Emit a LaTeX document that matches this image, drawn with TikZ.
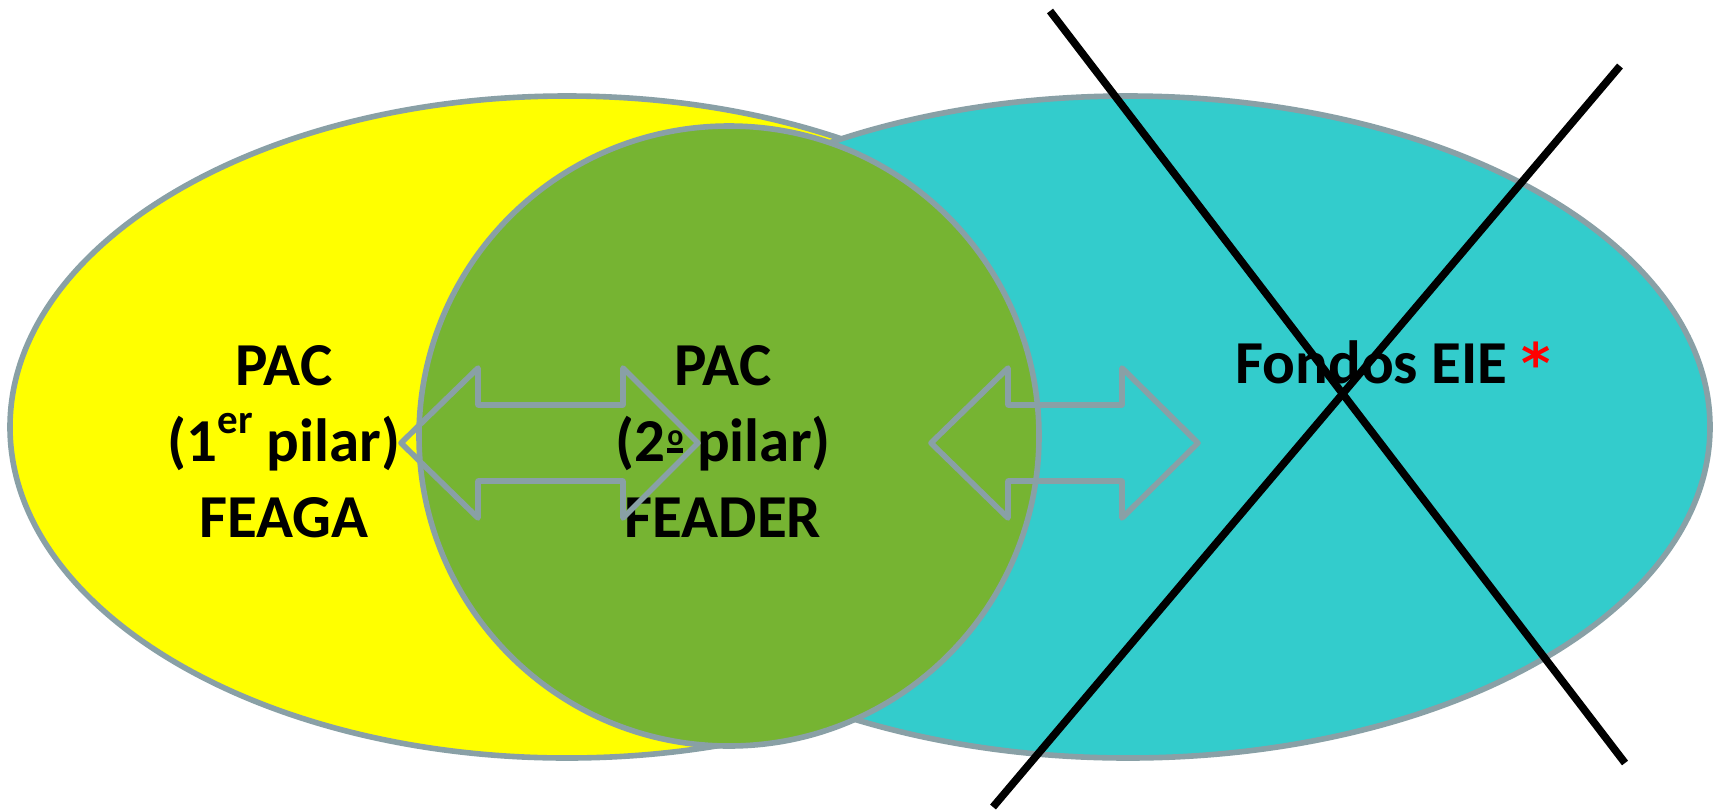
\documentclass[tikz,border=0pt]{standalone}
\usepackage{fontspec}
\setmainfont{Carlito}
\newfontfamily\astfont{DejaVu Sans}
\definecolor{edgegray}{RGB}{137,160,166}
\definecolor{pacyellow}{RGB}{255,255,0}
\definecolor{eiecyan}{RGB}{51,204,204}
\definecolor{feadergreen}{RGB}{118,180,50}
\newcommand\ordmasc{\kern1pt\raisebox{4pt}{\vbox{\hbox{\fontsize{15pt}{15pt}\selectfont o}\kern1pt\hrule height 2.5pt}}}
\begin{document}
\begin{tikzpicture}[x=0.5pt,y=-0.5pt,
  region/.style={draw=edgegray,line width=2.8pt},
  blockarrow/.style={draw=edgegray,line width=2.8pt,line join=round},
  lbl/.style={font=\fontsize{30.5pt}{38pt}\selectfont\bfseries,inner sep=0pt,anchor=base},
  cross/.style={draw=black,line width=3.8pt}]
\fill[white] (0,0) rectangle (1717,809);
\useasboundingbox (0,0) rectangle (1717,809);
% regions
\path[region,fill=pacyellow] (567,427) ellipse [x radius=557,y radius=331];
\path[region,fill=eiecyan] (1128,427) ellipse [x radius=582,y radius=331];
\path[region,fill=feadergreen] (729,436) circle [radius=310];
% texts
\node[lbl] (p1a) at (284,385) {PAC};
\node[lbl] (p1b) at (284,461) {(1\raisebox{14pt}{\fontsize{20.5pt}{20.5pt}\selectfont er} pilar)};
\node[lbl] (p1c) at (284,537) {FEAGA};
\node[lbl] (p2a) at (723,385) {PAC};
\node[lbl] (p2b) at (723,461) {(2\ordmasc{} pilar)};
\node[lbl] (p2c) at (723,537) {FEADER};
\node[lbl,anchor=base west] (eie) at (1235,383) {Fondos EIE {\astfont\fontsize{28pt}{28pt}\selectfont\bfseries\color{red}*}};
% block arrows
\path[blockarrow] (401,443) -- (478,368) -- (478,405) -- (623,405) -- (623,368) -- (698,443)
  -- (623,518) -- (623,481) -- (478,481) -- (478,518) -- cycle;
\path[blockarrow] (931,443) -- (1008,368) -- (1008,405) -- (1122,405) -- (1122,368) -- (1198,443)
  -- (1122,518) -- (1122,481) -- (1008,481) -- (1008,518) -- cycle;
% cross
\coordinate (xa1) at (1050,11);
\coordinate (xa2) at (1625,763);
\coordinate (xb1) at (1620,66);
\coordinate (xb2) at (993,807);
\draw[cross] (xa1) -- (xa2);
\draw[cross] (xb1) -- (xb2);
\end{tikzpicture}
\end{document}
